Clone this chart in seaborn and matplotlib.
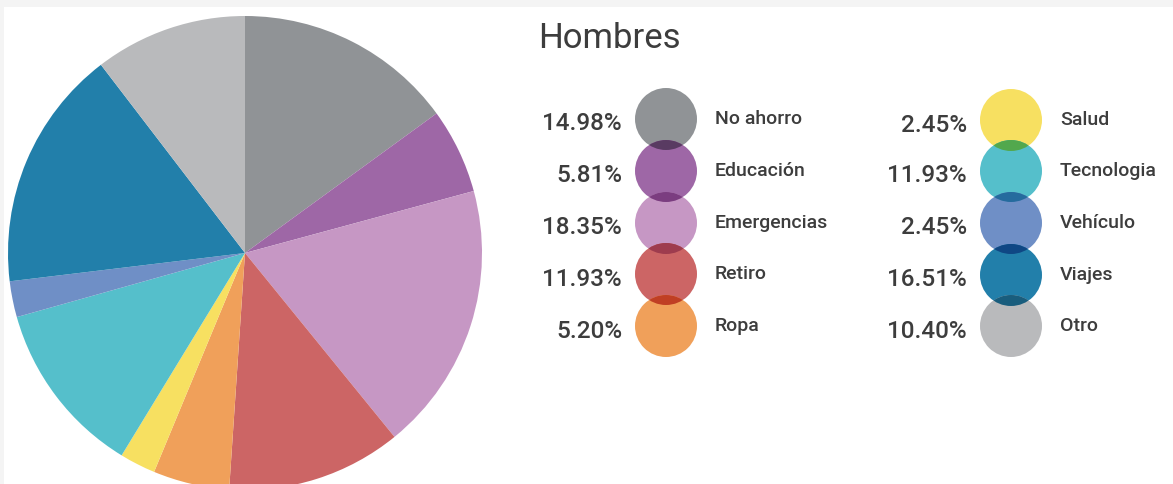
import numpy as np
import matplotlib
matplotlib.use("Agg")
import matplotlib.pyplot as plt
from matplotlib.patches import Circle, Rectangle
import seaborn as sns

# Savings destination shares for men
categories = ["No ahorro", "Educación", "Emergencias", "Retiro", "Ropa",
              "Salud", "Tecnologia", "Vehículo", "Viajes", "Otro"]
shares = [14.98, 5.81, 18.35, 11.93, 5.20, 2.45, 11.93, 2.45, 16.51, 10.40]
pct_labels = ["14.98%", "5.81%", "18.35%", "11.93%", "5.20%",
              "2.45%", "11.93%", "2.45%", "16.51%", "10.40%"]
title = "Hombres"

hex_colors = ["#909396", "#9e67a6", "#c697c4", "#cc6565", "#f0a05a",
              "#f7e061", "#55bfcb", "#6f8fc6", "#227faa", "#b9babc"]

sns.set_theme(style="white")
palette = sns.color_palette(hex_colors)
plt.rcParams["font.family"] = ["Roboto", "DejaVu Sans"]

W, H = 1173, 485
fig = plt.figure(figsize=(W / 100, H / 100), dpi=100, facecolor="#f4f4f4")
ax = fig.add_axes([0, 0, 1, 1])

# white card behind everything
ax.add_patch(Rectangle((4, 0), W - 4, H - 8, facecolor="white",
                       edgecolor="none", zorder=0))

# pie, clockwise from 12 o'clock
ax.pie(shares, colors=palette, startangle=90, counterclock=False,
       center=(245, H - 254), radius=237, frame=True,
       wedgeprops=dict(linewidth=0, edgecolor="none"))
ax.set_xlim(0, W)
ax.set_ylim(0, H)
ax.set_aspect("equal")
ax.axis("off")

text_color = "#3d3d3d"
ax.text(538, H - 38, title, fontsize=25, color=text_color,
        ha="left", va="center")

# legend: two columns of overlapping discs
col_cfg = [
    dict(cx=666, pct_x=622, lab_x=715, rows=[120, 172, 224, 275, 327]),
    dict(cx=1011, pct_x=967, lab_x=1060, rows=[121, 172, 224, 276, 327]),
]
r = 31
for c, cfg in enumerate(col_cfg):
    idxs = range(c * 5, c * 5 + 5)
    circles = []
    for k, i in enumerate(idxs):
        cy = H - cfg["rows"][k]
        circ = Circle((cfg["cx"], cy), r, facecolor=palette[i],
                      edgecolor="none", zorder=3)
        ax.add_patch(circ)
        circles.append((circ, i, cy))
        ax.text(cfg["pct_x"], cy - 4, pct_labels[i], fontsize=17.5,
                fontweight="medium", color=text_color,
                ha="right", va="center")
        ax.text(cfg["lab_x"], cy + 1, categories[i], fontsize=14,
                fontweight="medium", color=text_color,
                ha="left", va="center")
    # multiply-blended overlaps between neighbours
    for (c_up, i_up, _), (c_dn, i_dn, cy_dn) in zip(circles[:-1], circles[1:]):
        mix = tuple(a * b for a, b in zip(palette[i_up], palette[i_dn]))
        lens = Circle((cfg["cx"], cy_dn), r, facecolor=mix,
                      edgecolor="none", zorder=4)
        ax.add_patch(lens)
        lens.set_clip_path(c_up)

fig.savefig("out.png", dpi=100, facecolor=fig.get_facecolor())
